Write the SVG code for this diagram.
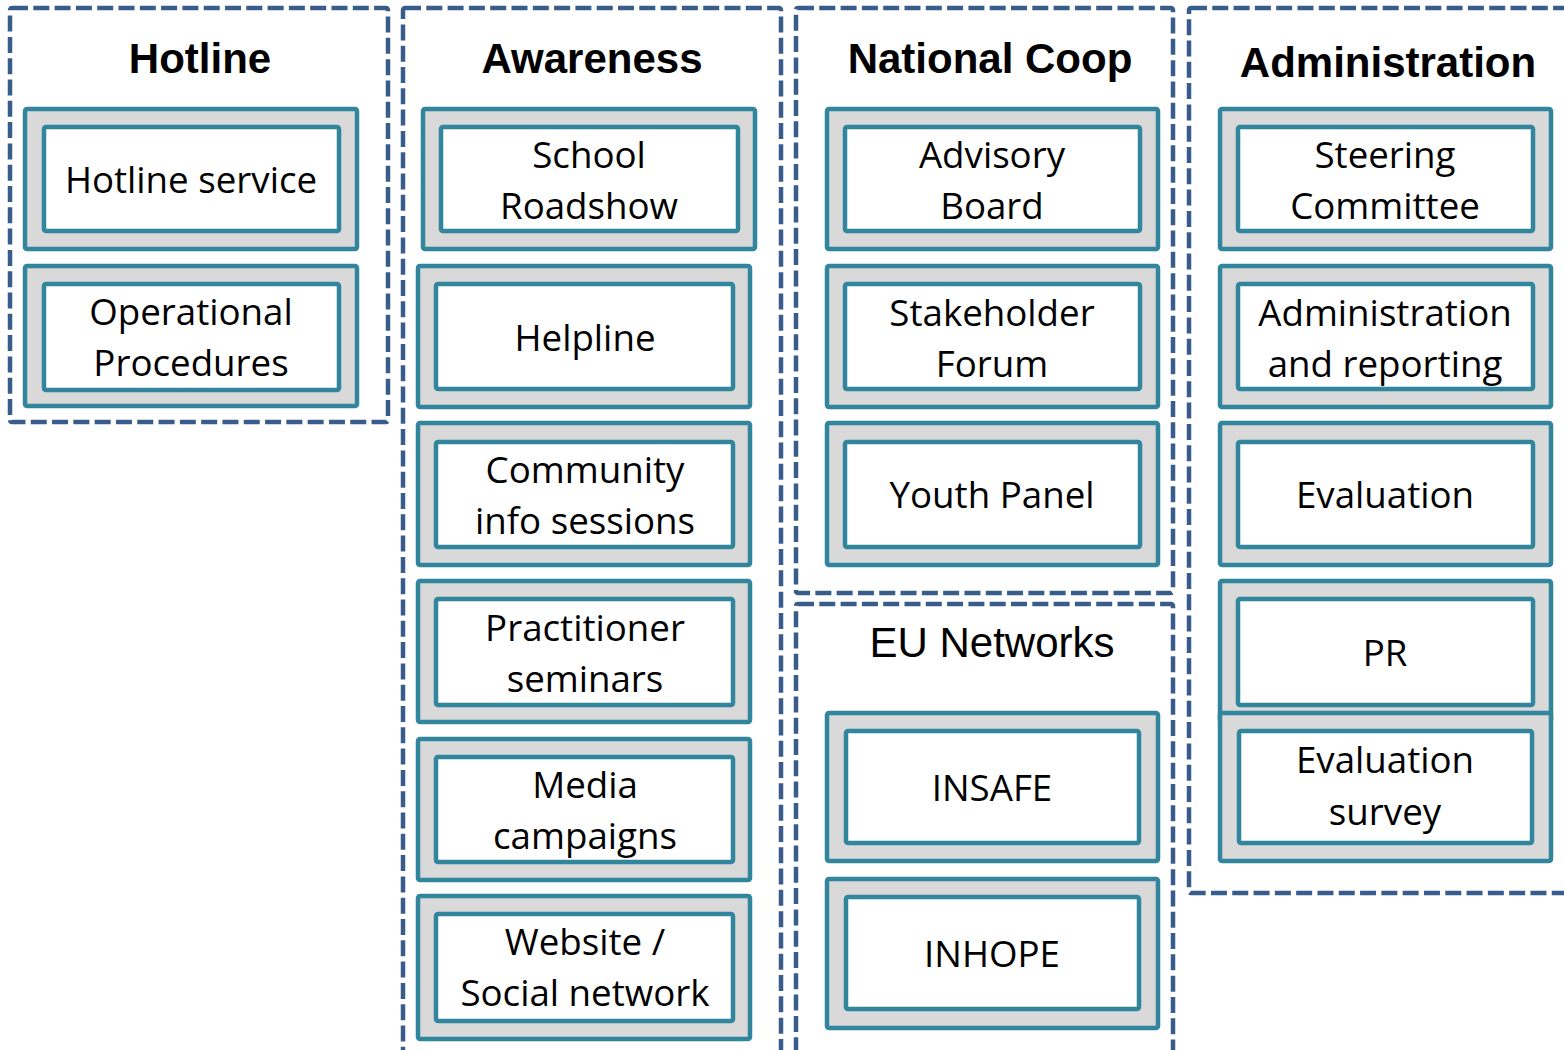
<svg xmlns="http://www.w3.org/2000/svg" width="1564" height="1050" viewBox="0 0 1564 1050">
<style>
.grp{fill:none;stroke:#385d8a;stroke-width:4.5;stroke-dasharray:16 5.3;}
.out{fill:#d9d9d9;stroke:#31859c;stroke-width:4.5;}
.in{fill:#ffffff;stroke:#31859c;stroke-width:4.5;}
.t{font-family:"Open Sans","Liberation Sans",sans-serif;font-size:36.7px;fill:#000;text-anchor:middle;}
.h{font-family:"Liberation Sans",Arial,sans-serif;font-size:42px;font-weight:bold;fill:#000;text-anchor:middle;}
.hr{font-family:"Liberation Sans",Arial,sans-serif;font-size:42px;fill:#000;text-anchor:middle;}
</style>
<rect width="1564" height="1050" fill="#ffffff"/>
<g id="groups">
<g id="grp-hotline"><rect class="grp" x="10" y="8" width="378" height="414" rx="2"/><text class="h" x="200" y="73">Hotline</text></g>
<g id="grp-awareness"><rect class="grp" x="403" y="8" width="378" height="1100" rx="2"/><text class="h" x="592" y="73">Awareness</text></g>
<g id="grp-national"><rect class="grp" x="796" y="8" width="377" height="585" rx="2"/><text class="h" x="990" y="73">National Coop</text></g>
<g id="grp-eu"><rect class="grp" x="796" y="604" width="377" height="500" rx="2"/><text class="hr" x="992" y="657">EU Networks</text></g>
<g id="grp-admin"><rect class="grp" x="1189" y="8" width="420" height="885" rx="2"/><text class="h" x="1388" y="77">Administration</text></g>
</g>
<g id="connectors"></g>
<g id="nodes">
<g id="hotline-service"><rect class="out" x="25" y="109" width="332" height="140" rx="2"/><rect class="in" x="44" y="127" width="295" height="104" rx="2"/><text class="t" x="191" y="193">Hotline service</text></g>
<g id="operational-procedures"><rect class="out" x="25" y="266" width="332" height="140" rx="2"/><rect class="in" x="44" y="284" width="295" height="106" rx="2"/><text class="t" x="191" y="325">Operational</text><text class="t" x="191" y="376">Procedures</text></g>

<g id="school-roadshow"><rect class="out" x="423" y="109" width="332" height="140" rx="2"/><rect class="in" x="441" y="127" width="297" height="104" rx="2"/><text class="t" x="589" y="168">School</text><text class="t" x="589" y="219">Roadshow</text></g>
<g id="helpline"><rect class="out" x="418" y="266" width="332" height="141" rx="2"/><rect class="in" x="436" y="284" width="297" height="105" rx="2"/><text class="t" x="585" y="351">Helpline</text></g>
<g id="community-info"><rect class="out" x="418" y="423" width="332" height="142" rx="2"/><rect class="in" x="436" y="442" width="297" height="105" rx="2"/><text class="t" x="585" y="483">Community</text><text class="t" x="585" y="534">info sessions</text></g>
<g id="practitioner-seminars"><rect class="out" x="418" y="581" width="332" height="141" rx="2"/><rect class="in" x="436" y="599" width="297" height="106" rx="2"/><text class="t" x="585" y="641">Practitioner</text><text class="t" x="585" y="692">seminars</text></g>
<g id="media-campaigns"><rect class="out" x="418" y="739" width="332" height="141" rx="2"/><rect class="in" x="436" y="757" width="297" height="105" rx="2"/><text class="t" x="585" y="798">Media</text><text class="t" x="585" y="849">campaigns</text></g>
<g id="website-social"><rect class="out" x="418" y="896" width="332" height="143" rx="2"/><rect class="in" x="436" y="914" width="297" height="107" rx="2"/><text class="t" x="585" y="955">Website /</text><text class="t" x="585" y="1006">Social network</text></g>

<g id="advisory-board"><rect class="out" x="827" y="109" width="331" height="140" rx="2"/><rect class="in" x="845" y="127" width="295" height="104" rx="2"/><text class="t" x="992" y="168">Advisory</text><text class="t" x="992" y="219">Board</text></g>
<g id="stakeholder-forum"><rect class="out" x="827" y="266" width="331" height="141" rx="2"/><rect class="in" x="845" y="284" width="295" height="105" rx="2"/><text class="t" x="992" y="326">Stakeholder</text><text class="t" x="992" y="377">Forum</text></g>
<g id="youth-panel"><rect class="out" x="827" y="423" width="331" height="142" rx="2"/><rect class="in" x="845" y="442" width="295" height="105" rx="2"/><text class="t" x="992" y="508">Youth Panel</text></g>

<g id="insafe"><rect class="out" x="827" y="713" width="331" height="148" rx="2"/><rect class="in" x="846" y="731" width="293" height="112" rx="2"/><text class="t" x="992" y="801">INSAFE</text></g>
<g id="inhope"><rect class="out" x="827" y="879" width="331" height="149" rx="2"/><rect class="in" x="846" y="897" width="293" height="112" rx="2"/><text class="t" x="992" y="967">INHOPE</text></g>

<g id="steering-committee"><rect class="out" x="1220" y="109" width="331" height="140" rx="2"/><rect class="in" x="1238" y="127" width="295" height="104" rx="2"/><text class="t" x="1385" y="168">Steering</text><text class="t" x="1385" y="219">Committee</text></g>
<g id="admin-reporting"><rect class="out" x="1220" y="266" width="331" height="141" rx="2"/><rect class="in" x="1238" y="284" width="295" height="105" rx="2"/><text class="t" x="1385" y="326">Administration</text><text class="t" x="1385" y="377">and reporting</text></g>
<g id="evaluation"><rect class="out" x="1220" y="423" width="331" height="142" rx="2"/><rect class="in" x="1238" y="442" width="295" height="105" rx="2"/><text class="t" x="1385" y="508">Evaluation</text></g>
<g id="pr"><rect class="out" x="1220" y="581" width="331" height="141" rx="2"/><rect class="in" x="1238" y="599" width="295" height="106" rx="2"/><text class="t" x="1385" y="666">PR</text></g>
<g id="evaluation-survey"><rect class="out" x="1220" y="713" width="331" height="148" rx="2"/><rect class="in" x="1239" y="731" width="293" height="112" rx="2"/><text class="t" x="1385" y="773">Evaluation</text><text class="t" x="1385" y="825">survey</text></g>
</g>
</svg>
